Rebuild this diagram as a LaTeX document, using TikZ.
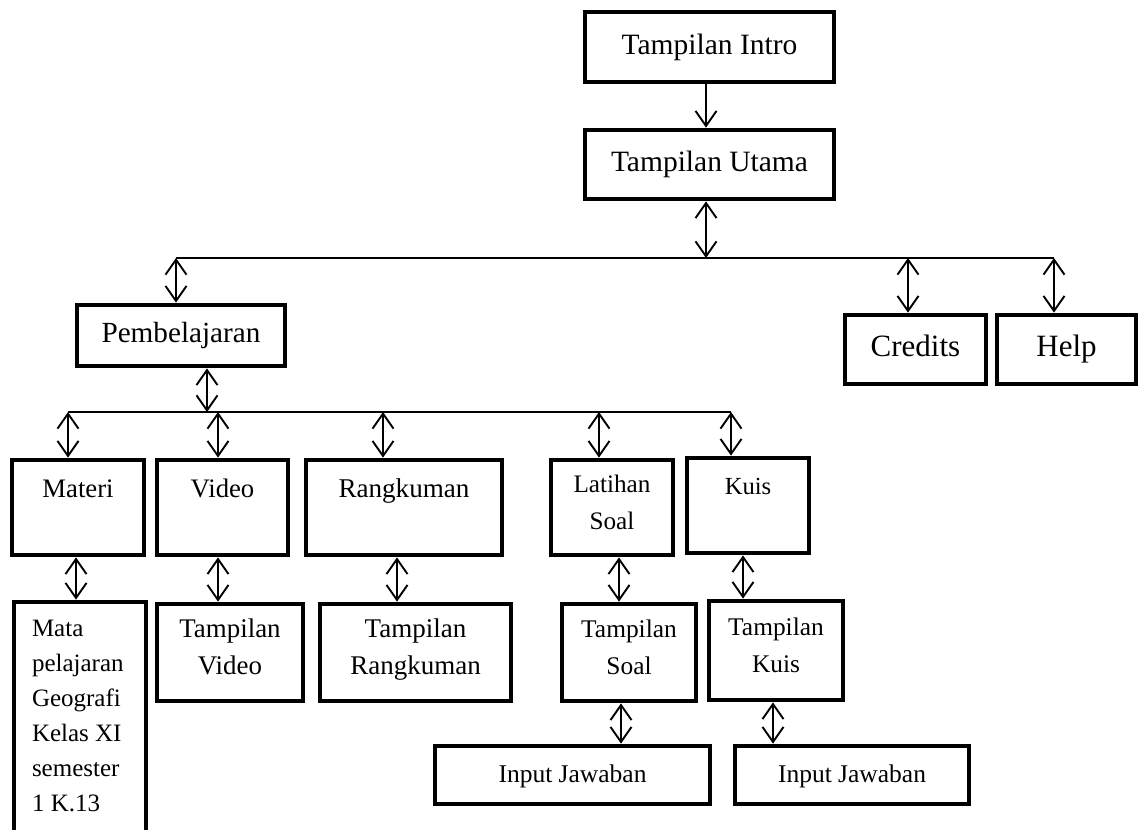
\documentclass[tikz,border=0pt]{standalone}
\usepackage{fontspec}
\setmainfont{Liberation Serif}
\usetikzlibrary{arrows.meta}
\begin{document}
\begin{tikzpicture}[x=1pt,y=-1pt,
  box/.style={draw,line width=4.8pt,rectangle,inner sep=0pt,align=center,
    execute at begin node=\strut,execute at end node=\strut},
  twoline/.style={execute at begin node=\rule{0pt}{33pt}},
  fs/.style={font=\fontsize{#1}{37}\selectfont},
  conn/.style={line width=1.9pt,{Straight Barb[length=15pt,width=21pt,line width=1.9pt]}-{Straight Barb[length=15pt,width=21pt,line width=1.9pt]}},
  oneway/.style={line width=1.9pt,-{Straight Barb[length=15pt,width=21pt,line width=1.9pt]}},
  bus/.style={line width=1.4pt}]
\useasboundingbox (0,0) rectangle (1138,830);
\clip (0,0) rectangle (1138,830);
\fill[white] (0,0) rectangle (1138,830);

% top level
\node[box,fs=29.5,minimum width=249pt,minimum height=70pt] (intro) at (709.5,47) {Tampilan Intro};
\node[box,fs=29.5,minimum width=249pt,minimum height=69pt] (utama) at (709.5,164.5) {Tampilan Utama};
\node[box,fs=29.2,minimum width=208pt,minimum height=61pt] (pemb) at (181,335.5) {Pembelajaran};
\node[box,fs=31,minimum width=141pt,minimum height=69pt] (credits) at (915.5,349.5) {Credits};
\node[box,fs=31,minimum width=139pt,minimum height=69pt] (help) at (1066.5,349.5) {Help};

% second row
\node[box,fs=26.7,minimum width=132pt,minimum height=95pt] (materi) at (78,507.5) {Materi\\[-10pt]~};
\node[box,fs=26.7,minimum width=131pt,minimum height=95pt] (video) at (222.5,507.5) {Video\\[-10pt]~};
\node[box,fs=27.1,minimum width=196pt,minimum height=95pt] (rangk) at (404,507.5) {Rangkuman\\[-10pt]~};
\node[box,twoline,fs=25.2,minimum width=122pt,minimum height=95pt] (latihan) at (612,507.5) {Latihan\\Soal};
\node[box,fs=24.6,minimum width=122pt,minimum height=95pt] (kuis) at (748,505.5) {Kuis\\[-10pt]~};

% third row
\node[box,font=\fontsize{25}{35}\selectfont,minimum width=132pt,minimum height=230pt,text width=96pt,align=flush left] (mata) at (80,717)
  {Mata\\pelajaran\\Geografi\\Kelas XI\\semester\\1 K.13};
\node[box,twoline,fs=26.9,minimum width=146pt,minimum height=97pt] (tvideo) at (230,652.5) {Tampilan\\Video};
\node[box,twoline,fs=27,minimum width=191pt,minimum height=97pt] (trangk) at (415.5,652.5) {Tampilan\\Rangkuman};
\node[box,twoline,fs=25.4,minimum width=134pt,minimum height=97pt] (tsoal) at (629,652.5) {Tampilan\\Soal};
\node[box,twoline,fs=25.4,minimum width=134pt,minimum height=99pt] (tkuis) at (776,650.5) {Tampilan\\Kuis};

% bottom row
\node[box,fs=25.5,minimum width=275pt,minimum height=58pt] (input1) at (572.5,775) {Input Jawaban};
\node[box,fs=25.5,minimum width=234pt,minimum height=58pt] (input2) at (852,775) {Input Jawaban};

% bus coordinates
\coordinate (b1L) at (176,258);
\coordinate (b1U) at (706,258);
\coordinate (b1C) at (908,258);
\coordinate (b1R) at (1054,258);
\coordinate (b2L) at (68,412);
\coordinate (b2P) at (207,412);
\coordinate (b2V) at (218,412);
\coordinate (b2R) at (383,412);
\coordinate (b2S) at (599,412);
\coordinate (b2K) at (731,412);

\draw[bus] (b1L) -- (b1R);
\draw[bus] (b2L) -- (b2K);

% connectors
\draw[oneway] ([xshift=-3.5pt]intro.south) -- ([xshift=-3.5pt]utama.north);
\draw[conn] ([xshift=-3.5pt]utama.south) -- (b1U);
\draw[conn] (b1L) -- (b1L |- pemb.north);
\draw[conn] (b1C) -- (b1C |- credits.north);
\draw[conn] (b1R) -- (b1R |- help.north);
\draw[conn] ([xshift=26pt]pemb.south) -- (b2P);
\draw[conn] (b2L) -- (b2L |- materi.north);
\draw[conn] (b2V) -- (b2V |- video.north);
\draw[conn] (b2R) -- (b2R |- rangk.north);
\draw[conn] (b2S) -- (b2S |- latihan.north);
\draw[conn] (b2K) -- (b2K |- kuis.north);

\draw[conn] ([xshift=-2pt]materi.south) -- ([xshift=-4pt]mata.north);
\draw[conn] ([xshift=-4.5pt]video.south) -- ([xshift=-12pt]tvideo.north);
\draw[conn] ([xshift=-7pt]rangk.south) -- ([xshift=-18.5pt]trangk.north);
\draw[conn] ([xshift=7pt]latihan.south) -- ([xshift=-10pt]tsoal.north);
\draw[conn] ([xshift=-5pt]kuis.south) -- ([xshift=-33pt]tkuis.north);
\draw[conn] ([xshift=-8pt]tsoal.south) -- ([xshift=48.5pt]input1.north);
\draw[conn] ([xshift=-3pt]tkuis.south) -- ([xshift=-79pt]input2.north);
\end{tikzpicture}
\end{document}
